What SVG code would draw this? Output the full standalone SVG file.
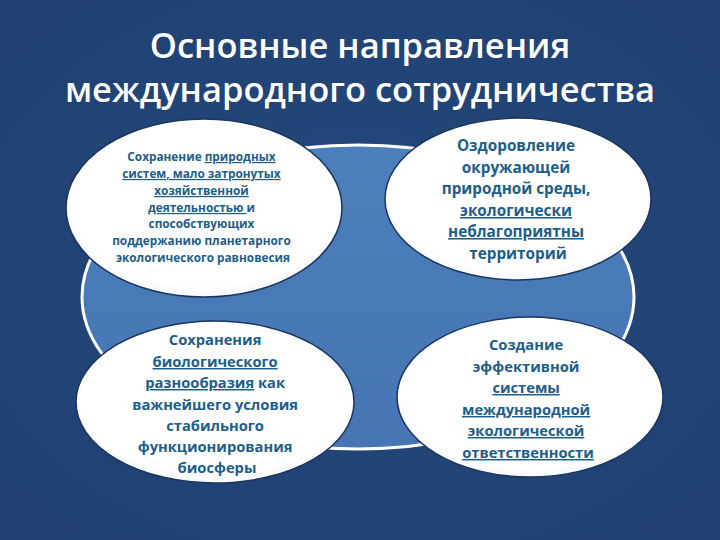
<svg xmlns="http://www.w3.org/2000/svg" width="720" height="540" viewBox="0 0 720 540">
  <defs>
    <radialGradient id="bg" cx="50%" cy="50%" r="75%">
      <stop offset="0" stop-color="#25497E"/>
      <stop offset="1" stop-color="#1E3F6F"/>
    </radialGradient>
    <linearGradient id="hubFill" x1="0" y1="0" x2="0" y2="1">
      <stop offset="0" stop-color="#4D7FBC"/>
      <stop offset="1" stop-color="#4575B3"/>
    </linearGradient>
    <radialGradient id="nodeFill" cx="50%" cy="45%" r="60%">
      <stop offset="0" stop-color="#FFFFFF"/>
      <stop offset="0.8" stop-color="#FFFFFF"/>
      <stop offset="1" stop-color="#F1F4FA"/>
    </radialGradient>
  </defs>
  <style>
    .title { font-family: "Open Sans", "Noto Sans", sans-serif; font-size: 34.5px; font-weight: 600; fill: #FFFFFF; text-anchor: middle; }
    .node { fill: url(#nodeFill); stroke: #1A355F; stroke-width: 1.5; }
    .hub { fill: url(#hubFill); stroke: #FFFFFF; stroke-width: 3; }
    .t { font-family: "Open Sans", "Noto Sans", sans-serif; font-weight: bold; fill: #1B5E8C; text-anchor: middle; }
    .small { font-size: 11.8px; }
    .big { font-size: 14.7px; }
    .big2 { font-size: 15.3px; }
    .u { text-decoration: underline; }
  </style>

  <rect x="0" y="0" width="720" height="540" fill="url(#bg)"/>

  <g id="title">
    <text class="title" x="360" y="58">Основные направления</text>
    <text class="title" x="360" y="102">международного сотрудничества</text>
  </g>

  <g id="hub">
    <ellipse class="hub" cx="358" cy="297" rx="276" ry="152"/>
  </g>

  <g id="node-top-left">
    <ellipse class="node" cx="204" cy="208" rx="138" ry="89"/>
    <text class="t small">
      <tspan x="203" y="161">Сохранение <tspan class="u">природных</tspan></tspan>
      <tspan x="203" y="178" class="u">систем, мало затронутых</tspan>
      <tspan x="203" y="195" class="u">хозяйственной</tspan>
      <tspan x="203" y="212"><tspan class="u">деятельностью </tspan>и</tspan>
      <tspan x="203" y="228">способствующих</tspan>
      <tspan x="203" y="245">поддержанию планетарного</tspan>
      <tspan x="203" y="262">экологического равновесия</tspan>
    </text>
  </g>

  <g id="node-top-right">
    <ellipse class="node" cx="518" cy="199" rx="133" ry="81"/>
    <text class="t big2">
      <tspan x="518" y="151">Оздоровление</tspan>
      <tspan x="518" y="173">окружающей</tspan>
      <tspan x="518" y="194">природной среды,</tspan>
      <tspan x="518" y="216" class="u">экологически</tspan>
      <tspan x="518" y="237" class="u">неблагоприятны</tspan>
      <tspan x="518" y="259">территорий</tspan>
    </text>
  </g>

  <g id="node-bottom-left">
    <ellipse class="node" cx="215" cy="402" rx="139" ry="81"/>
    <text class="t big">
      <tspan x="217" y="345">Сохранения</tspan>
      <tspan x="217" y="367" class="u">биологического</tspan>
      <tspan x="217" y="388"><tspan class="u">разнообразия</tspan> как</tspan>
      <tspan x="217" y="410">важнейшего условия</tspan>
      <tspan x="217" y="431">стабильного</tspan>
      <tspan x="217" y="452">функционирования</tspan>
      <tspan x="217" y="473">биосферы</tspan>
    </text>
  </g>

  <g id="node-bottom-right">
    <ellipse class="node" cx="530" cy="397" rx="133" ry="80"/>
    <text class="t big">
      <tspan x="528" y="350">Создание</tspan>
      <tspan x="528" y="372">эффективной</tspan>
      <tspan x="528" y="393" class="u">системы</tspan>
      <tspan x="528" y="415" class="u">международной</tspan>
      <tspan x="528" y="436" class="u">экологической</tspan>
      <tspan x="528" y="458" class="u">ответственности</tspan>
    </text>
  </g>
</svg>
